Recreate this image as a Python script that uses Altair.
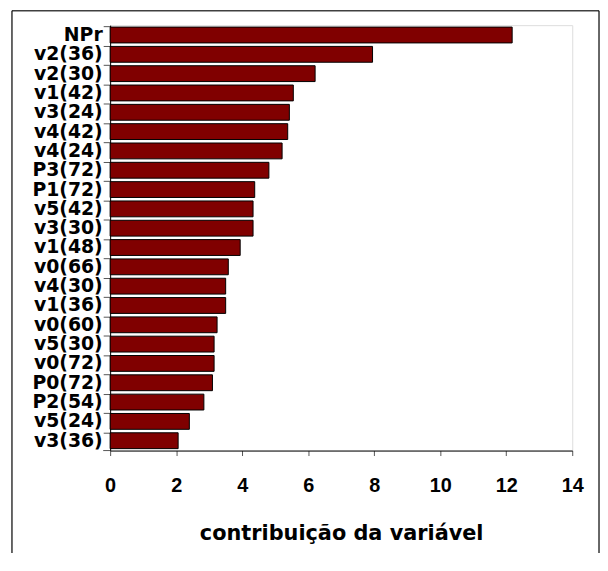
import altair as alt
import pandas as pd

categories = ["NPr", "v2(36)", "v2(30)", "v1(42)", "v3(24)", "v4(42)", "v4(24)",
              "P3(72)", "P1(72)", "v5(42)", "v3(30)", "v1(48)", "v0(66)", "v4(30)",
              "v1(36)", "v0(60)", "v5(30)", "v0(72)", "P0(72)", "P2(54)", "v5(24)",
              "v3(36)"]
values = [12.18, 7.95, 6.21, 5.55, 5.43, 5.38, 5.21,
          4.81, 4.38, 4.33, 4.33, 3.94, 3.58, 3.50,
          3.50, 3.24, 3.15, 3.15, 3.10, 2.84, 2.40,
          2.06]
x_ticks = [0, 2, 4, 6, 8, 10, 12, 14]
x_title = "contribuição da variável"

df = pd.DataFrame({"var": categories, "contrib": values})

W, H = 466, 429

bars = alt.Chart(df).mark_bar(color="#800000", stroke="black", strokeWidth=1).encode(
    x=alt.X("contrib:Q",
            scale=alt.Scale(domain=[0, 14], nice=False, zero=True),
            axis=alt.Axis(values=x_ticks, title=x_title, grid=False,
                          labelFont="Liberation Sans", labelFontWeight="bold",
                          labelFontSize=20, labelColor="black", labelFlush=False,
                          labelPadding=20, tickSize=5, tickColor="#555555",
                          domainColor="black",
                          titleFont="DejaVu Sans", titleFontWeight="bold",
                          titleFontSize=21, titleColor="black", titlePadding=28)),
    y=alt.Y("var:N", sort=categories,
            scale=alt.Scale(paddingInner=0.18, paddingOuter=0.1),
            axis=alt.Axis(title=None, bandPosition=0, labelFont="DejaVu Sans",
                          labelFontWeight="bold", labelFontSize=19,
                          labelColor="black", labelLimit=300, labelPadding=1,
                          tickSize=7, tickColor="#555555", domainColor="black")),
)

frame_df = pd.DataFrame({"k": [0]})
bottom_tick = alt.Chart(frame_df).mark_rule(color="#555555", strokeWidth=1).encode(
    x=alt.value(-7), x2=alt.value(0), y=alt.value(H))
frame_top = alt.Chart(frame_df).mark_rule(color="#404040", strokeWidth=1.5).encode(
    x=alt.value(-99), x2=alt.value(493), y=alt.value(-14.5))
frame_left = alt.Chart(frame_df).mark_rule(color="black", strokeWidth=1.2).encode(
    x=alt.value(-99), y=alt.value(-14.5), y2=alt.value(H + 110))
frame_right = alt.Chart(frame_df).mark_rule(color="black", strokeWidth=1.2).encode(
    x=alt.value(493), y=alt.value(-14.5), y2=alt.value(H + 110))

chart = alt.layer(bars, bottom_tick, frame_top, frame_left, frame_right).properties(
    width=W, height=H,
    autosize=alt.AutoSizeParams(type="none"),
    padding={"left": 103, "top": 15, "right": 28, "bottom": 101},
).configure_view(stroke="#808080", strokeWidth=1.5).configure(background="white")

chart.save("out.html", embed_options={"renderer": "svg", "actions": False})
